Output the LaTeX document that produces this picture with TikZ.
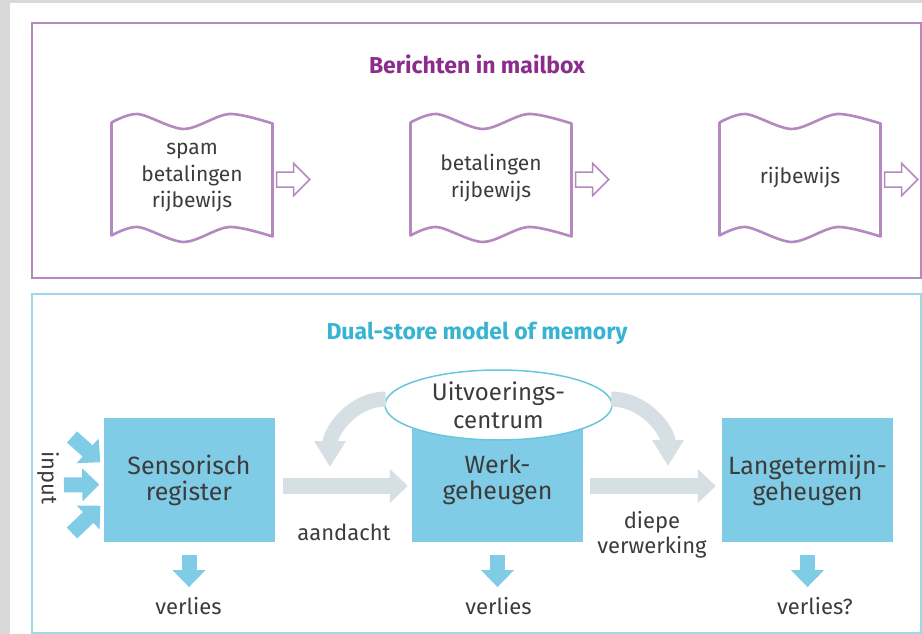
\documentclass[tikz,border=0pt]{standalone}
\usepackage{fontspec}
\setmainfont{Fira Sans}
\usepackage{xcolor}
\usepackage{tikz}
\usetikzlibrary{calc}
\usetikzlibrary{shapes}
\usetikzlibrary{arrows.meta}

\definecolor{mailline}{RGB}{182,136,192}
\definecolor{mailtitlec}{RGB}{139,45,140}
\definecolor{memfill}{RGB}{128,204,230}
\definecolor{memline}{RGB}{160,214,230}
\definecolor{memtitlec}{RGB}{55,180,210}
\definecolor{flowgrey}{RGB}{214,224,228}
\definecolor{inkgrey}{RGB}{60,60,60}
\definecolor{pagegrey}{RGB}{217,217,217}

\begin{document}
\begin{tikzpicture}[x=1pt,y=-1pt,>=latex,
		every node/.style={text=inkgrey},
		titletext/.style={font=\fontsize{23}{26}\selectfont\bfseries},
		msg/.style={minimum width=161pt, minimum height=113pt, inner sep=0pt, align=center, font=\fontsize{21}{26.5}\selectfont},
		msgedge/.style={draw=mailline, line width=2.6pt, line join=round},
		nextarrow/.style={draw=mailline, fill=white, line width=1.5pt, line join=miter},
		membox/.style={fill=memfill, minimum width=171pt, minimum height=124pt, inner sep=0pt, align=center, font=\fontsize{25}{26}\selectfont},
		centre/.style={ellipse, draw=memtitlec!75, fill=white, line width=1.5pt, minimum width=227pt, minimum height=70pt, inner sep=0pt, align=center, font=\fontsize{24}{28}\selectfont},
		flowlabel/.style={inner sep=0pt, align=center, font=\fontsize{22}{25}\selectfont},
		flowarrow/.style={draw=flowgrey, line width=16pt, -{Triangle[length=18pt, width=33pt]}},
		bendarrow/.style={draw=flowgrey, line width=15pt, -{Triangle[length=26pt, width=30pt]}},
		lossarrow/.style={draw=memfill, line width=15pt, -{Triangle[length=17pt, width=32pt]}, shorten <=13pt, shorten >=10pt},
		inarrow/.style={draw=memfill, line width=15pt, -{Triangle[length=17pt, width=32pt]}, shorten >=4pt}]

	% page
	\fill[pagegrey] (0,0) rectangle (922,634);
	\fill[white] (10,3) rectangle (922,634);
	\useasboundingbox (0,0) rectangle (922,634);

	% Berichten in mailbox
	\draw[draw=mailline, line width=2pt] (32,23) rectangle (921,278);
	\node at (477,64) (mailtitle) [titletext, text=mailtitlec] {Berichten in mailbox};
	\node at (192,178) (m1) [msg] {spam\\betalingen\\rijbewijs};
	\node at (491,178) (m2) [msg] {betalingen\\rijbewijs};
	\node at (800,178) (m3) [msg] {rijbewijs};
	\foreach \m in {m1,m2,m3}{
		\draw[msgedge, shift={(\m)}] plot[smooth] coordinates {(-80.5,-55.5) (-54,-64) (-8,-49) (37,-64) (80.5,-54.5)}
			-- plot[smooth] coordinates {(80.5,58.5) (37,49) (-8,64) (-54,49) (-80.5,57.5)} -- cycle;
		\draw[nextarrow, shift={($(\m.east) + (4,1.5)$)}] (0,-7.5) -- (17,-7.5) -- (17,-16) -- (33,0) -- (17,16) -- (17,7.5) -- (0,7.5) -- cycle;
	}

	% Dual-store model of memory
	\draw[draw=memline, line width=2pt] (32,294) rectangle (921,633);
	\node at (477,333) (memtitle) [titletext, text=memtitlec] {Dual-store model of memory};
	\node at (189,480) (sr) [membox] {Sensorisch\\register};
	\node at (497.5,480) (wg) [membox] {Werk-\\geheugen};
	\node at (807.5,480) (lt) [membox] {Langetermijn-\\geheugen};
	\node at (498.5,405) (uc) [centre] {Uitvoerings-\\centrum};

	% flow between the stores
	\draw[flowarrow, shorten <=8pt, shorten >=4pt] (sr.-4) -- (wg.184);
	\draw[flowarrow, shorten <=7pt, shorten >=6pt] (wg.-4) -- (lt.184);
	\node at (344,532) (att) [flowlabel] {aandacht};
	\node at (652,535) (deep) [flowlabel] {diepe\\verwerking};

	% control from the centre
	\coordinate (c1) at (330,467);
	\coordinate (c2) at (668,466);
	\draw[bendarrow] (uc.177) to[out=180,in=90] (c1);
	\draw[bendarrow] (uc.3) to[out=0,in=90] (c2);

	% input
	\node at (48,478) (inp) [flowlabel, rotate=-90] {input};
	\foreach \n/\x/\y/\a in {1/72/437/170, 2/64/485/183, 3/72/533/195}{
		\coordinate (in\n) at (\x,\y);
		\draw[inarrow] (in\n) -- (sr.\a);
	}

	% loss
	\node at (188.5,606) (v1) [flowlabel] {verlies};
	\node at (498.5,606) (v2) [flowlabel] {verlies};
	\node at (815,606) (v3) [flowlabel] {verlies?};
	\foreach \b/\v in {sr/v1, wg/v2, lt/v3}{
		\draw[lossarrow] (\b.south) -- (\b.south |- \v.north);
	}
\end{tikzpicture}
\end{document}
